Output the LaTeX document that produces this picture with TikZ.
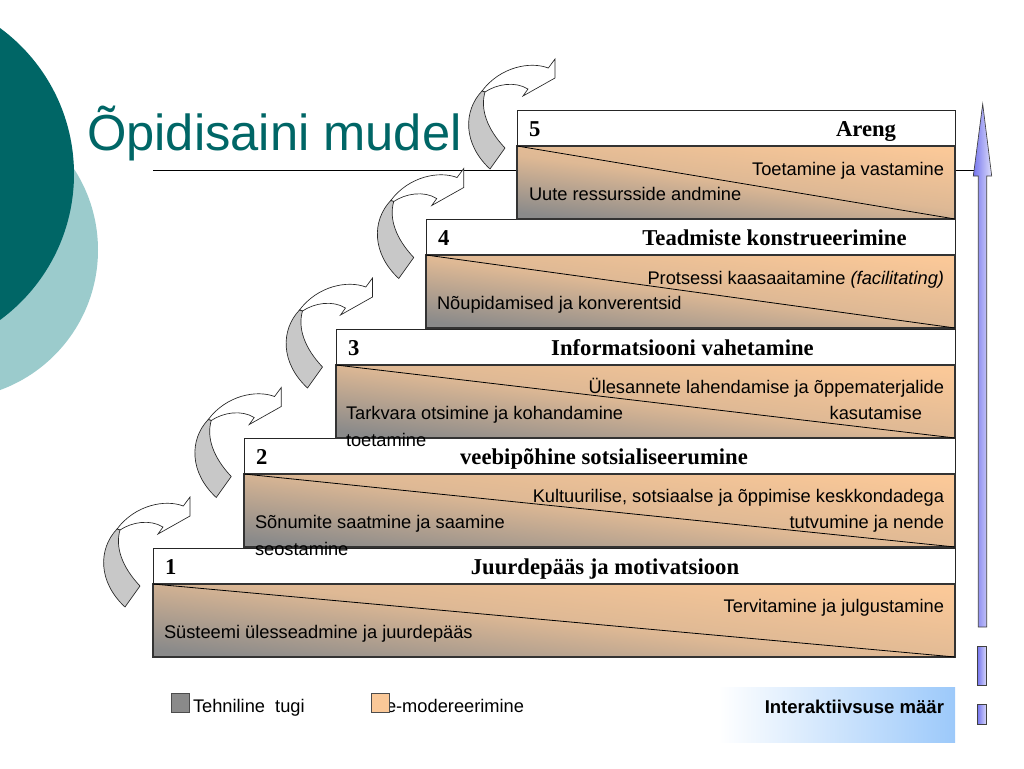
\documentclass[tikz,border=0pt]{standalone}
\usepackage{fontspec}
\setmainfont{Liberation Sans}
\newfontfamily\timesfont{Liberation Serif}
\definecolor{tealdark}{RGB}{0,102,102}
\definecolor{teallight}{RGB}{155,203,204}
\definecolor{peach}{RGB}{250,200,152}
\definecolor{stepgray}{RGB}{138,138,138}
\definecolor{bendgray}{RGB}{200,200,200}
\definecolor{arrowblue}{RGB}{118,118,238}
\definecolor{skyblue}{RGB}{156,201,250}

\begin{document}
\begin{tikzpicture}
[x=0.75pt,y=-0.75pt,every node/.style={inner sep=0pt,outer sep=0pt},
 body/.style={font=\fontsize{13.7}{16}\selectfont,text=black},
 head/.style={font=\timesfont\bfseries\fontsize{17}{20}\selectfont},
 headpart/.style={draw=black!85,line width=0.6pt,fill=white},
 lowpart/.style={draw=black!80,line width=0.8pt,top color=peach,bottom color=stepgray,middle color=peach!75!stepgray,shading angle=-7},
 bendfront/.style={draw=black!85,line width=0.5pt,fill=white},
 bendback/.style={draw=black!85,line width=0.5pt,fill=bendgray},
 bluebar/.style={draw=black!75,line width=0.5pt,left color=arrowblue,right color=arrowblue!25}]
\useasboundingbox (0,0) rectangle (1024,768);
\begin{scope}
\clip (0,0) rectangle (1024,768);
\fill[teallight] (-51,250) circle (149);
\fill[tealdark] (-107,174) circle (181);
\end{scope}
\node[anchor=base west,text=tealdark,font=\fontsize{38}{40}\selectfont] (title) at (87,150) {Õpidisaini mudel};
\coordinate (rulestart) at (153,170);
\coordinate (ruleend) at (975,170);
\draw[line width=0.6pt] (rulestart) -- (ruleend);
\foreach \k in {0,...,4}{
\begin{scope}[shift={(190+91.25*\k,497-109.5*\k)}]
\draw[bendfront] (-6.7,9) .. controls (-25,2) and (-55,8) .. (-73,32) -- (-70,33) .. controls (-58,25) and (-40,22) .. (-27,30) -- (-32,37) -- (0,19) -- (0,0) -- cycle;
\draw[bendback] (-73,32) .. controls (-92,52) and (-92,85) .. (-65,110) -- (-50,89) .. controls (-68,70) and (-75,50) .. (-70,33) -- cycle;
\end{scope}}
\foreach \lx/\ty/\hx/\htext [count=\k] in {153/548/605/Juurdepääs ja motivatsioon,244/438/604/veebipõhine sotsialiseerumine,336/329/682.5/Informatsiooni vahetamine,426/219/774.5/Teadmiste konstrueerimine,517/110/866/Areng}{
\draw[headpart] (\lx,\ty) rectangle (955,\ty+36);
\draw[lowpart] (\lx,\ty+36) rectangle (955,\ty+109);
\draw[line width=0.6pt] (\lx,\ty+36) -- (955,\ty+109);
\node[head,anchor=base west] (num\k) at (\lx+12,\ty+26) {\k};
\node[head,anchor=base] (head\k) at (\hx,\ty+26) {\htext};
}
\node[body,anchor=base east] (right5) at (944,175) {Toetamine ja vastamine};
\node[body,anchor=base west] (left5) at (529,200) {Uute ressursside andmine};
\node[body,anchor=base east] (right4) at (944,284) {Protsessi kaasaaitamine \textit{(facilitating)}};
\node[body,anchor=base west] (left4) at (437,309) {Nõupidamised ja konverentsid};
\node[body,anchor=base east] (right3) at (944,393) {Ülesannete lahendamise ja õppematerjalide};
\node[body,anchor=base east] (right3b) at (922,419) {kasutamise};
\node[body,anchor=base west] (left3) at (346,419) {Tarkvara otsimine ja kohandamine};
\node[body,anchor=base west] (left3b) at (346,446) {toetamine};
\node[body,anchor=base east] (right2) at (944,502) {Kultuurilise, sotsiaalse ja õppimise keskkondadega};
\node[body,anchor=base east] (right2b) at (944,528) {tutvumine ja nende};
\node[body,anchor=base west] (left2) at (255,528) {Sõnumite saatmine ja saamine};
\node[body,anchor=base west] (left2b) at (255,555) {seostamine};
\node[body,anchor=base east] (right1) at (944,612) {Tervitamine ja julgustamine};
\node[body,anchor=base west] (left1) at (164,638) {Süsteemi ülesseadmine ja juurdepääs};
\draw[bluebar] (978.3,627) -- (978.3,176) -- (973.3,176) -- (982.7,104) -- (991.7,176) -- (986.7,176) -- (986.7,627) -- cycle;
\draw[bluebar] (977.5,646) rectangle (986.7,685);
\draw[bluebar] (977.5,704) rectangle (986.7,724);
\shade[left color=white,right color=skyblue] (718,687) rectangle (955,742);
\node[body,font=\bfseries\fontsize{13.9}{16}\selectfont,anchor=base east] (rate) at (944,713) {Interaktiivsuse määr};
\node[body,anchor=base west] (techtext) at (193,712) {Tehniline\ \ tugi};
\node[body,anchor=base west] (modtext) at (386,712) {e-modereerimine};
\node[draw=black!70,fill=stepgray,minimum width=13.5pt,minimum height=14pt] (techkey) at (180.5,702.5) {};
\node[draw=black!70,fill=peach,minimum width=13.5pt,minimum height=14pt] (modkey) at (380.5,702.5) {};
\end{tikzpicture}
\end{document}
